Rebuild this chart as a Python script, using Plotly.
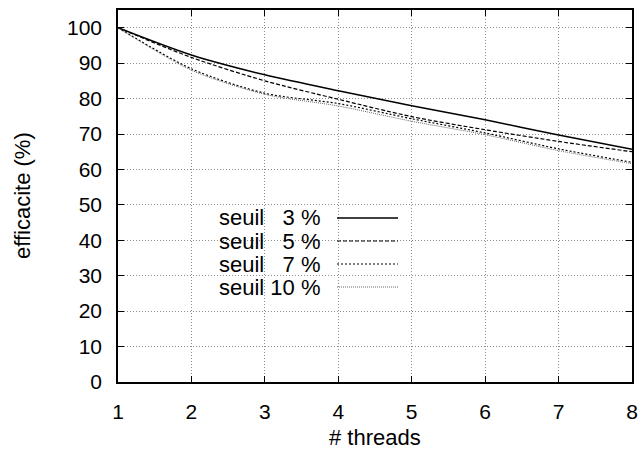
import plotly.graph_objects as go

threads = [1, 2, 3, 4, 5, 6, 7, 8]

eff_3 = [100, 92.3, 86.7, 82.2, 78.0, 74.0, 69.7, 65.7]
eff_5 = [100, 91.6, 85.0, 79.8, 74.9, 71.2, 67.9, 65.0]
eff_7 = [100, 88.4, 81.5, 78.6, 74.3, 70.3, 65.8, 62.0]
eff_10 = [100, 88.0, 81.2, 77.9, 73.6, 69.8, 65.3, 61.6]

labels = ["seuil\u00a0\u00a0\u00a03 %", "seuil\u00a0\u00a0\u00a05 %",
          "seuil\u00a0\u00a0\u00a07 %", "seuil 10 %"]

FONT = "Liberation Sans, Arial, sans-serif"

# plot box in pixels (gnuplot layout)
L, R, T, B = 118, 632, 10, 382
PW, PH = R - L, B - T

# line styles: (colour, width, dash)
styles = [
    ("black", 1.5, "solid"),
    ("black", 1.2, "4px,2px"),
    ("black", 1.2, "2px,2px"),
    ("#666666", 1.0, "1px,1px"),
]

fig = go.Figure()

for ys, name, (col, w, dash) in zip([eff_3, eff_5, eff_7, eff_10], labels, styles):
    fig.add_trace(go.Scatter(
        x=threads, y=ys, mode="lines", name=name,
        line=dict(color=col, width=w, dash=dash, shape="spline", smoothing=0.8),
        showlegend=False,
    ))

# gnuplot-style key: opaque white box, text right aligned, sample line on the right
fig.add_shape(type="rect", xref="paper", yref="paper",
              x0=0.002, x1=(410 - L) / PW, y0=(B - 302) / PH, y1=(B - 207) / PH,
              fillcolor="white", line=dict(width=0), layer="between")

row_y = [218, 241, 264, 287]
for i, (name, (col, w, dash)) in enumerate(zip(labels, styles)):
    yp = (B - row_y[i]) / PH
    fig.add_annotation(x=(322 - L) / PW, y=yp, xref="paper", yref="paper",
                       text=name, showarrow=False, xanchor="right", yanchor="middle",
                       borderpad=0, font=dict(family=FONT, size=22, color="black"))
    fig.add_shape(type="line", xref="paper", yref="paper",
                  x0=(337 - L) / PW, x1=(398 - L) / PW, y0=yp, y1=yp,
                  line=dict(color=col, width=w, dash=dash), layer="above")

# axis titles placed by hand
fig.add_annotation(x=0.5, y=(B - 437) / PH, xref="paper", yref="paper",
                   text="# threads", showarrow=False, xanchor="center", yanchor="middle",
                   font=dict(family=FONT, size=22, color="black"))
fig.add_annotation(x=(22 - L) / PW, y=0.5, xref="paper", yref="paper",
                   text="efficacite (%)", showarrow=False, textangle=-90,
                   xanchor="center", yanchor="middle",
                   font=dict(family=FONT, size=22, color="black"))

axis_common = dict(
    showline=True, linecolor="black", linewidth=1.5, mirror="ticks",
    ticks="inside", ticklen=6, tickcolor="black", tickwidth=1,
    showgrid=True, gridcolor="#8c8c8c", griddash="1px,2px", gridwidth=1,
    zeroline=False, automargin=False,
    tickfont=dict(family=FONT, size=21, color="black"),
)

fig.update_xaxes(range=[1, 8], dtick=1, ticklabelstandoff=10, **axis_common)
fig.update_yaxes(range=[0, 105], tickvals=list(range(0, 101, 10)),
                 ticklabelstandoff=10, **axis_common)

fig.update_layout(
    width=644, height=455,
    margin=dict(l=L, r=644 - R, t=T, b=455 - B, autoexpand=False),
    plot_bgcolor="white", paper_bgcolor="white",
    font=dict(family=FONT, size=21, color="black"),
)

# drop the browser's default body margin so the figure sits at (0, 0)
fig.write_html("out.html", config={"displayModeBar": False},
               post_script="document.body.style.margin='0';")
